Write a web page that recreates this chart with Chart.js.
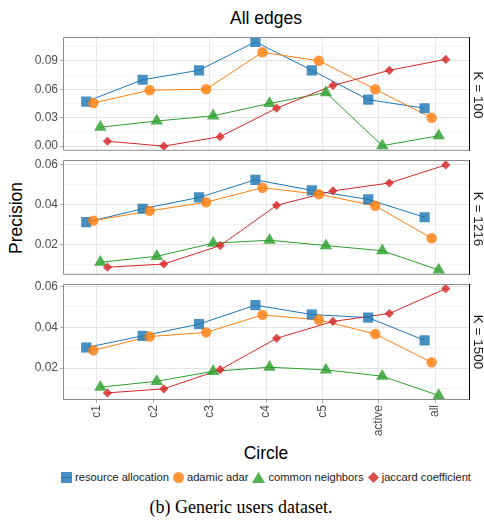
<!DOCTYPE html>
<html>
<head>
<meta charset="utf-8">
<script src="https://cdn.jsdelivr.net/npm/chart.js@4/dist/chart.umd.min.js"></script>
<style>
  body { margin: 0; background: #fff; }
  #wrap { position: relative; width: 484px; height: 520px; font-family: "Liberation Sans", Arial, sans-serif; }
  canvas { position: absolute; left: 0; }
  .txt { position: absolute; white-space: nowrap; color: #000; }
  .strip { position: absolute; font-size: 13.5px; color: #1a1a1a; transform: translate(-50%, -50%) rotate(90deg); white-space: nowrap; }
  #legend { position: absolute; left: 60px; width: 416px; top: 471px; display: flex; justify-content: center; align-items: center; font-size: 11.2px; color: #1a1a1a; }
  #legend span.k { display: inline-flex; align-items: center; margin-right: 4px; }
  #legend svg { margin-right: 3px; }
</style>
</head>
<body>
<div id="wrap">
  <div class="txt" style="left:266px;top:8px;transform:translateX(-50%);font-size:17.5px;">All edges</div>
  <div class="txt" style="left:16px;top:218px;transform:translate(-50%,-50%) rotate(-90deg);font-size:17.5px;">Precision</div>
  <div class="txt" style="left:266px;top:443px;transform:translateX(-50%);font-size:17.5px;">Circle</div>

  <canvas id="p1" width="484" height="129" style="top:29px"></canvas>
  <canvas id="p2" width="484" height="130" style="top:152px"></canvas>
  <canvas id="p3" width="484" height="169" style="top:276px"></canvas>

  <div class="strip" style="left:478px;top:95px;">K = 100</div>
  <div class="strip" style="left:478px;top:219px;">K = 1216</div>
  <div class="strip" style="left:478px;top:342px;">K = 1500</div>

  <div id="legend"></div>
  <div class="txt" style="left:241px;top:497px;transform:translateX(-50%);font-family:'Liberation Serif','Times New Roman',serif;font-size:18px;">(b) Generic users dataset.</div>
</div>

<script>
// circles on the x axis
var categories = ['c1', 'c2', 'c3', 'c4', 'c5', 'active', 'all'];
var seriesNames = ['resource allocation', 'adamic adar', 'common neighbors', 'jaccard coefficient'];

// K = 100
var ra100 = [0.047, 0.070, 0.080, 0.110, 0.080, 0.049, 0.040];
var aa100 = [0.0455, 0.059, 0.060, 0.099, 0.090, 0.060, 0.030];
var cn100 = [0.020, 0.0265, 0.032, 0.045, 0.0565, 0.0005, 0.011];
var jc100 = [0.0052, 0.0, 0.010, 0.040, 0.064, 0.080, 0.0915];

// K = 1216
var ra1216 = [0.0311, 0.0379, 0.0436, 0.0525, 0.0472, 0.0426, 0.0336];
var aa1216 = [0.0319, 0.0368, 0.0412, 0.0485, 0.0452, 0.0394, 0.0230];
var cn1216 = [0.0109, 0.0139, 0.0205, 0.0220, 0.0193, 0.0167, 0.0070];
var jc1216 = [0.0084, 0.0100, 0.0193, 0.0396, 0.0469, 0.0509, 0.0600];

// K = 1500
var ra1500 = [0.0301, 0.0358, 0.0416, 0.0509, 0.0463, 0.0448, 0.0336];
var aa1500 = [0.0287, 0.0355, 0.0375, 0.0461, 0.0437, 0.0367, 0.0228];
var cn1500 = [0.0106, 0.0135, 0.0184, 0.0204, 0.0191, 0.0160, 0.0065];
var jc1500 = [0.0078, 0.0098, 0.0192, 0.0346, 0.0429, 0.0468, 0.0590];

// y tick labels per panel
var yTicks100 = [0.00, 0.03, 0.06, 0.09];
var yTicks1216 = [0.02, 0.04, 0.06];
var yTicks1500 = [0.02, 0.04, 0.06];

var lineColors = ['#1f77b4', '#ff7f0e', '#2ca02c', '#d62728'];
var pointColors = ['rgba(31,119,180,0.82)', 'rgba(255,127,14,0.82)', 'rgba(44,160,44,0.82)', 'rgba(214,39,40,0.82)'];
var pointStyles = ['rect', 'circle', 'triangle', 'rectRot'];
var pointRadii = [7.2, 5.2, 7.2, 4.6];
var dodge = [-0.1875, -0.0625, 0.0625, 0.1875];

function makeDatasets(seriesList) {
  var lines = [], points = [];
  seriesList.forEach(function (vals, s) {
    var pts = vals.map(function (v, i) { return { x: i + 1 + dodge[s], y: v }; });
    lines.push({
      label: seriesNames[s], data: pts, borderColor: lineColors[s], borderWidth: 1,
      pointRadius: 0, fill: false, order: 10 + (3 - s)
    });
    points.push({
      label: seriesNames[s], data: pts, showLine: false, pointStyle: pointStyles[s],
      pointRadius: pointRadii[s], pointBackgroundColor: pointColors[s], pointBorderWidth: 0,
      order: 3 - s
    });
  });
  return lines.concat(points);
}

var panelBox = {
  id: 'panelBox',
  afterDatasetsDraw: function (chart) {
    var a = chart.chartArea, ctx = chart.ctx;
    ctx.save();
    ctx.strokeStyle = '#8c8c8c';
    ctx.lineWidth = 1;
    ctx.beginPath();
    ctx.moveTo(a.right, a.top + 0.5);
    ctx.lineTo(a.left + 0.5, a.top + 0.5);
    ctx.lineTo(a.left + 0.5, a.bottom - 0.5);
    ctx.lineTo(a.right, a.bottom - 0.5);
    ctx.stroke();
    ctx.strokeStyle = '#000';
    ctx.beginPath();
    ctx.moveTo(a.right + 0.5, a.top);
    ctx.lineTo(a.right + 0.5, a.bottom);
    ctx.stroke();
    ctx.restore();
  }
};

function makePanel(id, seriesList, yMin, yMax, yTicks, decimals, bottom) {
  var minor = [];
  var step = yTicks[1] - yTicks[0];
  for (var v = yTicks[0] - step / 2; v < yMax; v += step) {
    if (v > yMin) minor.push(v);
  }
  var allTicks = yTicks.map(function (v) { return { value: v, major: true }; })
    .concat(minor.map(function (v) { return { value: v, major: false }; }));

  new Chart(document.getElementById(id), {
    type: 'line',
    data: { datasets: makeDatasets(seriesList) },
    plugins: [panelBox],
    options: {
      responsive: false,
      devicePixelRatio: 1,
      animation: false,
      layout: { padding: { top: 8, bottom: bottom ? 0 : 2, left: 0, right: 15 } },
      plugins: { legend: { display: false }, tooltip: { enabled: false } },
      scales: {
        x: {
          type: 'linear', min: 0.4, max: 7.6,
          afterBuildTicks: function (sc) {
            sc.ticks = categories.map(function (c, i) { return { value: i + 1 }; });
          },
          afterFit: function (sc) {
            sc.height = bottom ? 45 : 0;
            sc.paddingLeft = 0; sc.paddingRight = 0;
          },
          border: { display: false },
          grid: { color: '#e6e6e6', lineWidth: 1, drawTicks: bottom, tickLength: 3, tickColor: '#b0b0b0' },
          ticks: {
            display: bottom, autoSkip: false, minRotation: 90, maxRotation: 90, padding: 2,
            color: '#4d4d4d', font: { family: 'Liberation Sans', size: 12 },
            callback: function (v) { return categories[Math.round(v) - 1]; }
          }
        },
        y: {
          type: 'linear', min: yMin, max: yMax,
          afterBuildTicks: function (sc) { sc.ticks = allTicks.slice(); },
          afterFit: function (sc) {
            sc.width = 63;
            sc.paddingTop = 0; sc.paddingBottom = 0;
          },
          border: { display: false },
          grid: {
            lineWidth: 1, tickLength: 3,
            color: function (c) { return c.tick && c.tick.major ? '#e3e3e3' : '#f3f3f3'; },
            tickColor: function (c) { return c.tick && c.tick.major ? '#b0b0b0' : 'rgba(0,0,0,0)'; }
          },
          ticks: {
            autoSkip: false, padding: 2, color: '#4d4d4d', font: { family: 'Liberation Sans', size: 12 },
            callback: function (v, i, ticks) { return ticks[i].major ? v.toFixed(decimals) : ''; }
          }
        }
      }
    }
  });
}

makePanel('p1', [ra100, aa100, cn100, jc100], -0.0049, 0.1151, yTicks100, 2, false);
makePanel('p2', [ra1216, aa1216, cn1216, jc1216], 0.00456, 0.0625, yTicks1216, 2, false);
makePanel('p3', [ra1500, aa1500, cn1500, jc1500], 0.0043, 0.0613, yTicks1500, 2, true);

// legend keys
var shapes = [
  '<svg width="11" height="11"><rect x="0" y="0" width="11" height="11" fill="' + pointColors[0] + '"/><line x1="0" y1="5.5" x2="11" y2="5.5" stroke="' + lineColors[0] + '" stroke-width="1"/></svg>',
  '<svg width="11" height="11"><circle cx="5.5" cy="5.5" r="5.5" fill="' + pointColors[1] + '"/></svg>',
  '<svg width="13" height="11"><polygon points="6.5,0 13,11 0,11" fill="' + pointColors[2] + '"/></svg>',
  '<svg width="11" height="11"><polygon points="5.5,0 11,5.5 5.5,11 0,5.5" fill="' + pointColors[3] + '"/></svg>'
];
var legendHtml = '';
seriesNames.forEach(function (n, s) {
  legendHtml += '<span class="k">' + shapes[s] + n + '</span>';
});
document.getElementById('legend').innerHTML = legendHtml;
</script>
</body>
</html>
